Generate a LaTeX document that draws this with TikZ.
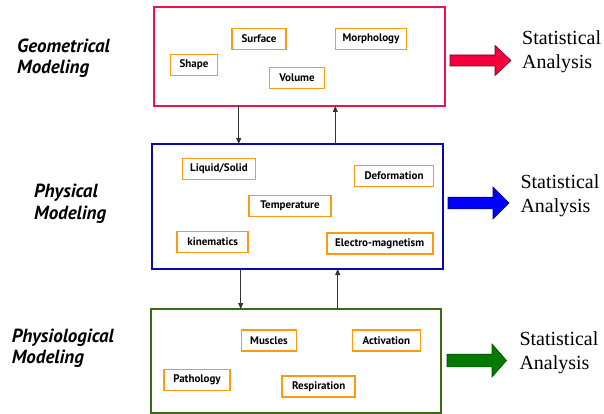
\documentclass[tikz,border=0pt]{standalone}
\usepackage{fontspec}
\setmainfont{Liberation Serif}
\newfontfamily\lblfont{PT Sans}
\usetikzlibrary{arrows.meta}
\definecolor{boxred}{HTML}{F0104A}
\definecolor{boxblue}{HTML}{0A0AA8}
\definecolor{boxgreen}{HTML}{3D6B12}
\definecolor{itemorange}{HTML}{FF9A10}
\definecolor{arrred}{HTML}{F5003C}
\definecolor{arrblue}{HTML}{0000FF}
\definecolor{arrgreen}{HTML}{007A00}
\begin{document}
\begin{tikzpicture}[x=1pt,y=-1pt,
  outerbox/.style={draw, line width=1.5pt, inner sep=0pt, outer sep=0pt, anchor=north west},
  item/.style={draw=itemorange, line width=1.6pt, fill=white, inner sep=0pt, minimum height=21pt,
    font=\lblfont\bfseries\fontsize{11}{13}\selectfont},
  sidelabel/.style={anchor=base west, inner sep=0pt,
    font=\lblfont\bfseries\itshape\fontsize{19}{22}\selectfont},
  stat/.style={anchor=base west, inner sep=0pt, font=\fontsize{20}{24}\selectfont},
  conn/.style={draw=black!80, line width=0.9pt, -{Triangle[length=6pt,width=5pt]}},
  blockarrow/.style={line width=0.6pt, line join=miter}
]
\useasboundingbox (0,0) rectangle (604,414);

% outer boxes
\node[outerbox, draw=boxred, minimum width=291pt, minimum height=99pt] (geo) at (154,7) {};
\node[outerbox, draw=boxblue, minimum width=291pt, minimum height=125pt] (phys) at (152,144) {};
\node[outerbox, draw=boxgreen, minimum width=290pt, minimum height=104pt] (physio) at (151,309) {};

% geometrical items
\node[item, minimum width=54pt] (surface) at (259,39) {Surface};
\node[item, minimum width=71pt] (morph) at (371,39) {Morphology};
\node[item, minimum width=47pt] (shape) at (194,65) {Shape};
\node[item, minimum width=55pt] (volume) at (297,78) {Volume};

% physical items
\node[item, minimum width=73pt] (liquid) at (219,169) {Liquid/Solid};
\node[item, minimum width=79pt] (deform) at (394,176) {Deformation};
\node[item, minimum width=82pt] (temp) at (290,206) {Temperature};
\node[item, minimum width=71pt] (kin) at (212.7,242) {kinematics};
\node[item, minimum width=106pt] (electro) at (379.7,243.7) {Electro-magnetism};

% physiological items
\node[item, minimum width=55pt] (muscles) at (269,340.5) {Muscles};
\node[item, minimum width=68pt] (activ) at (386.3,340.5) {Activation};
\node[item, minimum width=66pt] (patho) at (197,380) {Pathology};
\node[item, minimum width=73pt] (resp) at (318.7,386.7) {Respiration};

% side labels
\node[sidelabel] (lgeo1) at (17,52.5) {Geometrical};
\node[sidelabel] (lgeo2) at (17,74) {Modeling};
\node[sidelabel] (lphys1) at (34,197.5) {Physical};
\node[sidelabel] (lphys2) at (34,219.5) {Modeling};
\node[sidelabel] (lphysio1) at (11.7,342) {Physiological};
\node[sidelabel] (lphysio2) at (11.7,363.5) {Modeling};

% statistical analysis
\node[stat] (s1a) at (522,45) {Statistical};
\node[stat] (s1b) at (522,69) {Analysis};
\node[stat] (s2a) at (520.3,188.3) {Statistical};
\node[stat] (s2b) at (520.3,212) {Analysis};
\node[stat] (s3a) at (519.3,345) {Statistical};
\node[stat] (s3b) at (519.3,369) {Analysis};

% vertical connectors
\coordinate (xa) at (238.7,0);
\coordinate (xb) at (335.3,0);
\coordinate (xc) at (240.7,0);
\coordinate (xd) at (337.7,0);
\draw[conn] (geo.south -| xa) -- (phys.north -| xa);
\draw[conn] (phys.north -| xb) -- (geo.south -| xb);
\draw[conn] (phys.south -| xc) -- (physio.north -| xc);
\draw[conn] (physio.north -| xd) -- (phys.south -| xd);

% block arrows
\filldraw[blockarrow, fill=arrred, draw=arrred!45!black]
  (450,55) -- (495,55) -- (495,45.5) -- (511,60.5) -- (495,75.5) -- (495,66) -- (450,66) -- cycle;
\filldraw[blockarrow, fill=arrblue, draw=arrblue!45!black]
  (448,197.2) -- (493,197.2) -- (493,187) -- (509,203) -- (493,219) -- (493,208.8) -- (448,208.8) -- cycle;
\filldraw[blockarrow, fill=arrgreen, draw=arrgreen!60!black]
  (447,354.2) -- (492,354.2) -- (492,344) -- (506.5,360.5) -- (492,377) -- (492,366.8) -- (447,366.8) -- cycle;
\end{tikzpicture}
\end{document}
